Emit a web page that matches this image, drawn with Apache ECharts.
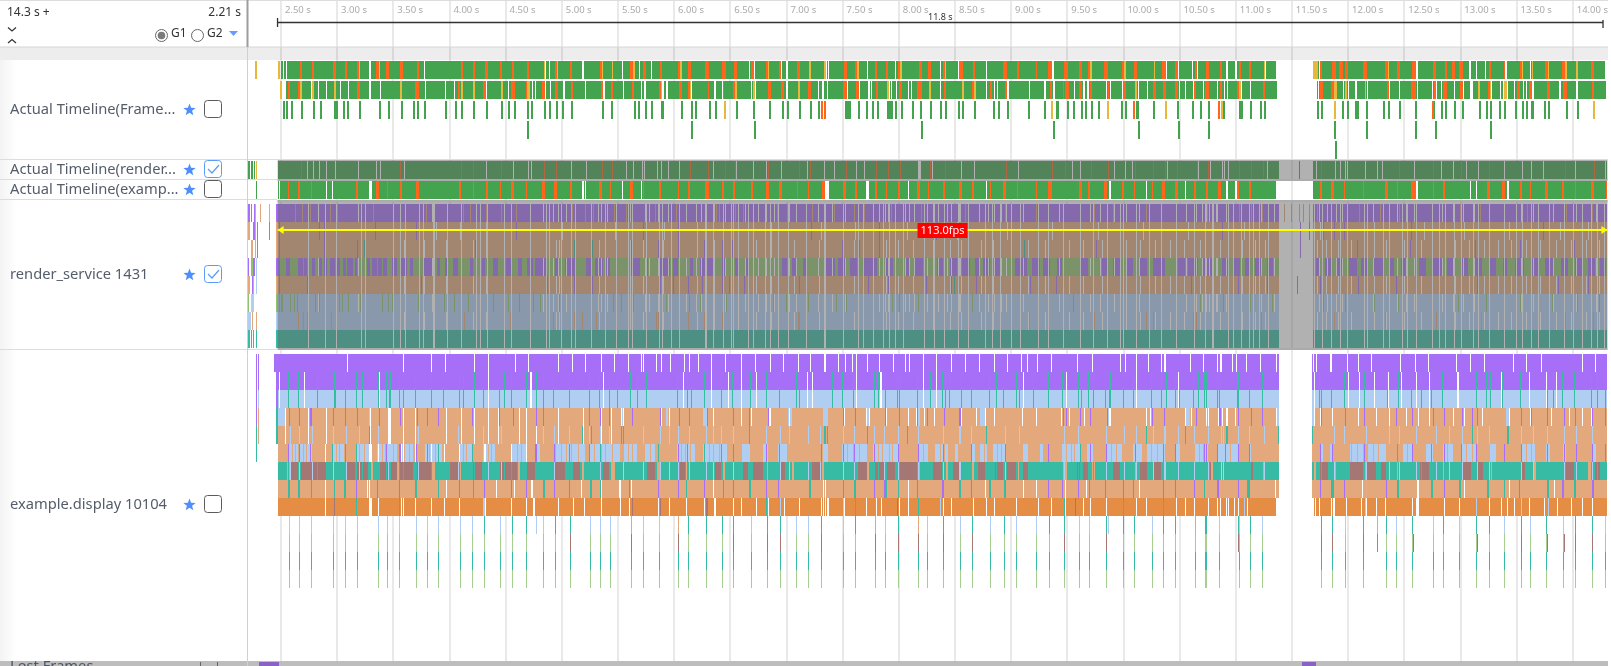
<!DOCTYPE html>
<html>
<head>
<meta charset="utf-8">
<title>trace timeline</title>
<style>
html,body{margin:0;padding:0;background:#fff;overflow:hidden}
#main{width:1611px;height:666px}
</style>
<script src="https://cdn.jsdelivr.net/npm/echarts@6/dist/echarts.min.js"></script>
</head>
<body>
<div id="main"></div>
<script>
// ruler
var xTickValues = [2.5,3,3.5,4,4.5,5,5.5,6,6.5,7,7.5,8,8.5,9,9.5,10,10.5,11,11.5,12,12.5,13,13.5,14];
var measureSpan = [2.47, 14.27];
var measureLabel = '11.8 s';
var fpsSpan = [2.47, 14.27];
var fpsLabel = '113.0fps';
var rowNames = ['Actual Timeline(Frame...', 'Actual Timeline(render...', 'Actual Timeline(examp...', 'render_service 1431', 'example.display 10104'];
var rowChecked = [false, true, false, true, false];

// Actual Timeline(Frame...) seconds
var f1Base = [[2.50,2.515],[2.53,2.545],[2.55,11.33],[11.66,14.245]];
var f1Gaps = [3.29,3.77,4.85,4.88,5.18,5.53,5.68,5.79,6.66,6.70,6.94,6.99,7.34,7.355,7.705,7.95,8.35,8.51,8.76,9.35,9.45,10.09,10.36,10.46,10.585,10.635,10.895,10.975,11.235,11.715,12.575,12.585,13.05,13.11,13.19,13.37,13.59];
var f1Orange = [[2.665,2.69],[2.775,2.795],[2.96,2.985],[3.07,3.085],[3.17,3.19],[3.345,3.365],[3.435,3.455],[3.555,3.58],[3.71,3.725],[4.10,4.115],[4.20,4.22],[4.31,4.335],[4.44,4.46],[4.55,4.57],[4.68,4.70],[4.93,4.95],[5.06,5.08],[5.33,5.35],[5.60,5.62],[5.71,5.735],[5.86,5.885],[6.02,6.04],[6.115,6.14],[6.26,6.295],[6.41,6.445],[6.52,6.545],[6.67,6.695],[6.805,6.82],[6.915,6.935],[7.08,7.105],[7.495,7.52],[7.59,7.61],[7.77,7.785],[7.87,7.89],[7.975,7.995],[8.16,8.185],[8.24,8.265],[8.37,8.39],[8.52,8.55],[8.64,8.655],[8.91,8.945],[9.03,9.045],[9.195,9.21],[9.31,9.345],[9.45,9.48],[9.58,9.61],[9.665,9.68],[9.805,9.84],[9.965,9.98],[10.07,10.10],[10.32,10.355],[10.43,10.46],[10.61,10.63],[10.71,10.735],[10.83,10.85],[11.0,11.015],[11.085,11.11],[11.72,11.74],[11.83,11.86],[11.89,11.92],[11.94,11.965],[12.105,12.14],[12.30,12.32],[12.40,12.425],[12.54,12.57],[12.72,12.745],[12.825,12.85],[12.89,12.915],[12.95,12.985],[13.215,13.24],[13.35,13.365],[13.49,13.51],[13.72,13.74],[13.87,13.89],[14.12,14.155]];
var f1Yellow = [[2.27,2.285],[2.47,2.49],[3.19,3.20],[3.365,3.38],[4.83,4.845],[4.95,4.96],[5.35,5.36],[5.435,5.44],[5.62,5.64],[6.04,6.055],[6.82,6.83],[7.185,7.20],[7.32,7.335],[7.61,7.63],[7.995,8.01],[8.39,8.40],[9.68,9.70],[9.98,10.0],[10.245,10.25],[11.22,11.23],[11.66,11.705],[12.32,12.33],[13.51,13.525],[13.60,13.605],[13.74,13.75],[13.89,13.91],[13.99,14.005]];

var f2Base = [[2.49,2.51],[2.54,11.34],[11.69,14.255]];
var f2Gaps = [2.52,2.775,2.83,2.905,2.985,3.03,3.10,3.29,3.38,3.78,3.96,4.04,4.325,4.52,4.73,4.76,4.85,4.89,5.01,5.205,5.365,5.54,5.70,5.73,5.89,5.925,6.145,6.35,6.415,6.675,6.71,6.99,7.20,7.27,7.31,7.35,7.525,7.63,7.72,7.71,7.74,7.90,7.915,7.96,8.07,8.095,8.355,8.76,8.83,8.86,8.95,9.145,9.28,9.36,9.54,9.625,9.66,9.825,9.86,9.965,10.11,10.19,10.475,10.525,10.595,10.685,10.73,10.81,10.875,10.90,11.02,11.10,11.705,11.93,11.97,12.035,12.045,12.12,12.14,12.335,12.425,12.585,12.72,12.75,12.795,12.915,12.99,13.06,13.07,13.24,13.32,13.345,13.385,13.445,13.49,13.525,13.55,13.61,13.74,13.85,13.91,14.0];
var f2Orange = [[2.56,2.58],[2.65,2.67],[3.175,3.20],[3.555,3.575],[3.69,3.725],[4.07,4.09],[4.29,4.32],[4.545,4.58],[4.67,4.685],[4.82,4.845],[4.935,4.96],[5.07,5.095],[5.335,5.36],[5.425,5.45],[5.61,5.635],[5.85,5.87],[6.03,6.055],[6.11,6.125],[6.285,6.30],[6.42,6.435],[6.51,6.53],[6.82,6.845],[6.935,6.96],[7.175,7.20],[7.485,7.52],[7.60,7.63],[7.78,7.795],[7.985,8.01],[8.14,8.185],[8.38,8.405],[8.63,8.645],[8.79,8.805],[8.92,8.945],[9.32,9.345],[9.435,9.45],[9.46,9.49],[9.585,9.61],[9.675,9.70],[9.835,9.85],[9.975,10.0],[10.235,10.26],[10.33,10.355],[10.435,10.46],[10.60,10.62],[10.70,10.735],[10.835,10.85],[10.98,11.0],[11.21,11.235],[11.715,11.75],[11.82,11.84],[12.31,12.335],[12.53,12.57],[12.73,12.745],[12.81,12.845],[12.96,12.985],[13.21,13.225],[13.465,13.49],[13.57,13.605],[13.73,13.76],[13.88,13.91],[14.13,14.155]];
var f2Yellow = [[2.49,2.51],[2.67,2.685],[2.775,2.79],[2.97,2.985],[3.56,3.575],[4.10,4.115],[4.205,4.22],[4.455,4.47],[4.685,4.705],[5.87,5.885],[6.125,6.14],[6.53,6.545],[6.685,6.705],[7.085,7.105],[7.875,7.895],[8.25,8.265],[8.54,8.56],[8.645,8.665],[10.08,10.10],[11.0,11.015],[11.84,11.87],[11.94,11.955],[12.115,12.13],[13.12,13.135],[13.225,13.24],[13.355,13.375]];

var f3Green = [2.53,2.55,2.595,2.685,2.79,2.855,2.98,3.0,3.06,3.095,3.20,3.38,3.46,3.575,3.68,3.715,3.78,3.965,4.055,4.105,4.21,4.33,4.465,4.52,4.58,4.695,4.73,4.845,4.89,4.95,5.005,5.085,5.36,5.44,5.64,5.68,5.735,5.795,5.885,6.055,6.145,6.18,6.305,6.36,6.545,6.695,6.835,6.955,6.995,7.105,7.20,7.27,7.51,7.53,7.55,7.63,7.70,7.75,7.795,7.885,7.90,7.92,7.955,8.01,8.105,8.175,8.265,8.355,8.405,8.515,8.55,8.655,8.83,8.87,8.95,9.14,9.275,9.39,9.48,9.54,9.61,9.645,9.70,9.76,9.965,10.0,10.10,10.25,10.46,10.595,10.66,10.735,10.87,11.01,11.03,11.11,11.20,11.23,11.705,11.74,11.92,11.965,12.04,12.06,12.135,12.285,12.335,12.425,12.57,12.735,12.80,12.835,12.915,12.985,13.135,13.20,13.235,13.315,13.365,13.455,13.525,13.56,13.605,13.72,13.755,13.91,14.005];
var f3Orange = [7.30,7.325,10.07,10.825,12.72];
var f3Yellow = [6.44,9.345,9.84,10.355,10.85,11.85,14.155];
var f4Green = [4.695,6.15,6.705,8.185,9.355,10.11,10.47,10.735,11.85,12.14,12.575,12.745,13.24];
var f5Green = [11.86];

// Actual Timeline(render...)
var renderEarly = [2.21,2.22,2.24,2.25,2.265];
var renderEarlyYellow = [2.28];
var renderBase = [[2.47,11.36],[11.53,11.545],[11.66,14.27]];
var renderGaps = [2.735,2.785,2.84,2.90,2.985,3.19,3.35,3.385,3.60,4.32,4.565,4.695,4.72,5.08,5.21,5.565,5.63,5.71,5.725,5.84,5.875,5.935,6.04,6.34,6.54,6.69,6.805,6.94,7.17,7.32,7.415,7.61,7.68,8.155,8.17,8.28,8.535,8.65,9.04,9.525,9.595,9.90,9.99,10.06,10.37,10.645,10.75,10.855,10.87,10.91,11.25,11.685,11.86,11.90,11.945,11.96,12.125,12.23,12.27,12.56,12.80,12.90,13.02,13.13,13.36,13.515,13.60,13.705,13.985,14.255];
var renderOrange = [2.685,3.56,4.10,4.205,4.455,4.84,4.945,5.35,5.44,6.135,6.295,6.44,6.53,6.83,7.10,7.195,7.515,7.78,7.89,8.0,8.26,8.40,8.94,9.345,9.465,9.69,9.84,10.08,10.245,10.345,10.455,10.63,10.73,11.005,11.11,11.22,11.735,12.425,12.73,12.975,13.22,13.895,14.155];

// Actual Timeline(examp...)
var exBase = [[2.475,2.48],[2.49,11.33],[11.655,11.66],[11.67,14.27]];
var exEarly = [2.28];
var exGaps = [2.905,2.955,3.29,3.30,5.18,5.205,5.53,5.70,6.68,7.33,7.345,7.36,7.70,7.715,8.065,8.76,9.855,10.075,10.18,10.525,10.90,10.89,10.975,12.58,13.055,13.11,13.38,13.39];
var exOrange = [[2.56,2.57],[2.655,2.67],[2.77,2.775],[3.165,3.18],[3.345,3.37],[3.44,3.445],[3.555,3.57],[3.70,3.725],[4.075,4.10],[4.20,4.215],[4.32,4.335],[4.44,4.455],[4.545,4.57],[4.67,4.685],[4.82,4.84],[4.925,4.945],[5.065,5.08],[5.325,5.345],[5.42,5.43],[5.60,5.62],[5.71,5.72],[5.85,5.87],[6.02,6.035],[6.11,6.125],[6.26,6.295],[6.41,6.43],[6.51,6.525],[6.67,6.685],[6.805,6.83],[6.915,6.945],[7.08,7.09],[7.18,7.185],[7.30,7.325],[7.485,7.51],[7.59,7.61],[7.77,7.785],[7.87,7.875],[7.975,7.995],[8.14,8.17],[8.24,8.245],[8.37,8.39],[8.52,8.54],[8.63,8.65],[8.79,8.795],[8.91,8.935],[9.03,9.04],[9.195,9.20],[9.31,9.34],[9.58,9.605],[9.665,9.68],[9.805,9.83],[9.965,9.98],[10.065,10.08],[10.23,10.235],[10.32,10.345],[10.43,10.455],[10.60,10.62],[10.705,10.73],[10.815,10.845],[10.98,11.0],[11.085,11.105],[11.715,11.735],[11.82,11.84],[11.93,11.945],[12.105,12.11],[12.30,12.32],[12.40,12.405],[12.53,12.57],[12.72,12.735],[12.81,12.825],[13.20,13.225],[13.33,13.365],[13.49,13.51],[13.58,13.595],[13.72,13.74],[13.87,13.885],[13.98,13.985],[14.12,14.15],[14.255,14.26]];

// render_service 1431
var rsBase = [[2.47,11.36],[11.66,14.27]];
var rsGapsShared = [2.74,2.896,2.994,3.21,3.25,3.50,3.556,3.606,3.727,3.763,3.85,3.86,3.976,4.103,4.236,4.27,4.33,4.485,4.547,4.715,4.857,4.88,4.99,5.08,5.11,5.256,5.375,5.478,5.58,5.62,5.744,5.86,5.886,5.966,6.034,6.265,6.275,6.336,6.425,6.498,6.513,6.646,6.69,6.795,6.84,6.913,7.0,7.164,7.327,7.49,7.62,7.67,7.755,7.845,7.90,7.95,8.02,8.21,8.30,8.39,8.51,8.60,8.75,8.81,8.88,8.98,9.06,9.22,9.31,9.44,9.59,9.71,9.83,9.945,9.975,10.09,10.21,10.315,10.45,10.61,10.70,10.77,10.905,10.95,11.02,11.09,11.125,11.18,11.26,11.67,11.74,11.82,11.90,11.96,12.115,12.145,12.285,12.34,12.45,12.50,12.575,12.72,12.78,12.835,12.915,12.975,13.08,13.13,13.225,13.36,13.46,13.52,13.595,13.655,13.755,13.89,13.965,14.05,14.13,14.185,14.245];
var rsGapsA = [2.83,3.19,3.84,4.83,4.92,4.96,5.03,5.315,5.345,5.40,5.60,5.73,5.77,5.85,5.94,6.10,6.19,6.23,6.35,6.44,6.56,6.62,6.735,6.81,6.88,7.015,7.075,7.27,7.39,7.505,7.815,7.86,7.89,8.04,8.08,8.125,8.24,8.29,8.33,8.41,8.45,8.525,8.70,8.775,8.835,8.895,8.94,8.985,9.09,9.41,9.68,9.77,9.90,10.0,10.12,10.535,10.625,10.715,10.80,10.89,10.68,10.74,10.81,11.20,11.32,11.715,11.79,11.865,11.92,12.19,12.28,12.41,12.485,12.56,12.81,12.90,12.99,13.09,13.505,13.61,13.79,13.995,14.17];
var rsGapsB = [3.60,3.77,3.97,4.205,4.325,4.945,4.975,5.33,5.60,5.715,5.89,6.20,6.35,6.56,6.72,6.85,7.06,7.28,7.59,7.875,7.98,8.11,8.29,8.44,8.54,8.72,8.82,9.13,9.28,9.50,9.62,9.79,10.0,10.13,10.26,10.39,10.52,10.66,10.84,11.03,11.15,11.24,11.70,11.78,11.88,12.0,12.2,12.31,12.47,12.62,12.78,12.92,13.05,13.18,13.3,13.42,13.55,13.68,13.82,13.95,14.08,14.2];
var rsGapsL2 = [3.216,3.88,4.09,4.325,5.0,5.47,5.9,6.2,6.56,6.85,7.3,7.6,8.06,8.5,8.95,9.35,9.75,10.15,10.55,11.05,11.72,12.2,12.65,13.0,13.4,13.85,14.1];
var rsL1Salmon = [2.63,2.69,2.76,2.935,3.0,3.32,3.79,3.85,4.12,4.18,4.325,4.46,4.59,4.71,4.92,5.09,5.20,5.27,5.46,5.57,5.82,6.01,6.365,6.395,6.53,6.60,6.91,6.99,7.22,7.415,7.59,7.68,7.92,8.185,8.33,8.57,8.925,9.205,9.72,9.885,10.18,10.725,11.005,11.11,11.21,11.405,11.465,11.54,11.57,11.63,11.70,11.745,12.07,12.26,12.425,12.485,12.72,12.97,13.14,13.225,13.565,13.905,14.14];
var rsL2Purple = [2.47,2.485,2.74,2.84,2.89,2.99,3.34,3.70,4.09,4.59,5.47,5.715,6.03,6.335,6.50,7.21,7.815,8.32,9.71,9.975,10.85,11.55,11.63,11.75,11.85,11.94,12.45,12.53,13.225,13.7,14.1];
var rsL3Purple = [2.485,2.89,2.99,3.177,3.497,3.556,5.61,5.85,6.03,6.26,6.42,6.51,7.48,7.815,9.74,9.975,11.55,12.05,12.52,13.10,13.50,13.98];
var rsL3Teal = [3.245,4.227,5.10,5.26,7.63,9.1];
var rsL4Green = [[2.47,11.36],[11.66,14.27]];
var rsL4Purple = [[2.47,2.49],[2.544,2.58],[2.65,2.692],[2.704,2.733],[2.772,2.80],[2.84,2.864],[2.881,2.911],[2.935,2.98],[3.0,3.023],[3.053,3.077],[3.088,3.142],[3.157,3.177],[3.26,3.29],[3.304,3.349],[3.364,3.393],[3.408,3.438],[3.482,3.526],[3.556,3.615],[3.645,3.674],[3.763,3.837],[3.881,3.911],[3.955,3.985],[4.029,4.073],[4.177,4.207],[4.28,4.31],[4.384,4.428],[4.50,4.547],[4.606,4.635],[4.68,4.739],[4.754,4.798],[4.768,4.857],[4.93,4.96],[5.02,5.12],[5.21,5.256],[5.286,5.36],[5.375,5.42],[5.596,5.685],[5.73,5.76],[5.863,5.951],[5.98,6.025],[6.129,6.158],[6.218,6.336],[6.41,6.44],[6.528,6.558],[6.617,6.646],[6.942,6.987],[7.03,7.075],[7.135,7.164],[7.34,7.415],[7.445,7.504],[7.549,7.608],[7.667,7.785],[7.859,7.90],[7.904,7.933],[8.037,8.081],[8.126,8.2],[8.318,8.377],[8.436,8.495],[8.54,8.614],[8.658,8.702],[8.732,8.791],[8.835,8.895],[9.013,9.117],[9.161,9.235],[9.264,9.324],[9.383,9.427],[9.59,9.664],[9.782,9.826],[9.886,9.945],[10.004,10.063],[10.122,10.181],[10.24,10.344],[10.462,10.52],[10.55,10.64],[10.67,10.773],[10.847,10.906],[10.95,11.01],[11.05,11.10],[11.14,11.2],[11.25,11.3],[11.68,11.72],[11.76,11.82],[11.86,11.92],[11.98,12.05],[12.08,12.14],[12.2,12.28],[12.33,12.38],[12.44,12.5],[12.6,12.66],[12.72,12.8],[12.85,12.92],[12.97,13.03],[13.08,13.16],[13.22,13.28],[13.34,13.38],[13.45,13.53],[13.6,13.66],[13.72,13.8],[13.86,13.92],[13.98,14.05],[14.1,14.16],[14.2,14.26]];
var rsL5Purple = [2.485,2.736,2.994,3.25,3.50,3.556,4.985,5.10,5.26,5.60,5.87,5.98,6.12,6.24,6.42,6.617,7.105,7.62,7.71,7.89,8.23,8.45,8.67,9.15,9.38,9.71,9.975,10.77,11.0,11.25,11.72,12.06,12.40,12.78,13.12,13.46,13.84,14.1];
var rsL5Teal = [3.75,3.85,4.863,6.48,7.49,7.59,8.48,10.58,11.52];
var rsL6Green = [2.47,2.485,2.50,2.515,2.58,2.618,2.645,2.805,2.84,3.023,3.044,3.097,3.207,3.40,3.452,3.49,3.72,3.955,4.04,4.16,4.384,4.517,4.62,4.739,4.74,4.80,4.96,4.975,5.256,5.375,5.45,5.52,5.626,5.73,5.92,6.04,6.129,6.218,6.454,6.558,6.795,6.868,6.913,6.987,7.164,7.18,7.43,7.52,7.93,7.99,8.08,8.155,8.64,8.88,9.53,10.535,10.655,10.86,11.1,11.3,11.75,11.95,12.2,12.42,12.72,12.95,13.2,13.5,13.78,14.0,14.2];
var rsL7Salmon = [2.654,2.698,2.734,2.95,2.994,3.25,3.497,3.556,3.763,3.858,4.124,4.538,4.922,5.10,5.173,5.30,5.833,5.848,6.12,6.26,6.42,6.498,6.513,7.09,7.105,7.49,7.62,7.845,9.146,9.72,10.18,10.21,10.24,10.595,10.625,11.2,11.85,12.3,12.75,13.15,13.55,13.9,14.15];
var rsEarly = [
  {lane: 0, color: 'purple', spans: [[2.21,2.225],[2.235,2.245],[2.26,2.27],[2.455,2.47]]},
  {lane: 0, color: 'salmon', spans: [[2.265,2.28],[2.315,2.325],[2.395,2.405]]},
  {lane: 1, color: 'salmon', spans: [[2.21,2.225],[2.27,2.275],[2.455,2.47]]},
  {lane: 1, color: 'purple', spans: [[2.25,2.27],[2.285,2.295],[2.395,2.405]]},
  {lane: 2, color: 'salmon', spans: [[2.23,2.255],[2.27,2.28],[2.455,2.47]]},
  {lane: 2, color: 'purple', spans: [[2.285,2.295]]},
  {lane: 3, color: 'purple', spans: [[2.21,2.22],[2.25,2.265],[2.455,2.47]]},
  {lane: 3, color: 'rsGreen', spans: [[2.23,2.25]]},
  {lane: 3, color: 'blue', spans: [[2.275,2.285]]},
  {lane: 4, color: 'salmon', spans: [[2.21,2.225],[2.25,2.26],[2.455,2.47]]},
  {lane: 4, color: 'purple', spans: [[2.245,2.25]]},
  {lane: 4, color: 'blue', spans: [[2.275,2.285]]},
  {lane: 5, color: 'rsGreen', spans: [[2.21,2.22],[2.455,2.47]]},
  {lane: 5, color: 'blue', spans: [[2.23,2.26]]},
  {lane: 6, color: 'blue', spans: [[2.21,2.23],[2.455,2.47]]},
  {lane: 6, color: 'salmon', spans: [[2.245,2.255],[2.275,2.285]]},
  {lane: 7, color: 'teal', spans: [[2.21,2.225],[2.235,2.24],[2.255,2.26],[2.275,2.28],[2.455,2.47]]}
];

// example.display 10104
var eLaneBase = [[2.476,11.36],[11.645,14.27]];
var e1Base = [[2.438,11.36],[11.645,14.27]];
var e1Gaps = [3.09,3.585,3.837,3.96,4.215,4.34,4.58,4.70,4.96,5.088,5.203,5.345,5.46,5.58,5.70,5.72,5.833,5.877,5.957,6.076,6.129,6.206,6.32,6.445,6.584,6.71,6.84,6.957,7.09,7.20,7.327,7.445,7.51,7.572,7.608,7.70,7.81,7.933,8.04,8.075,8.20,8.318,8.45,8.578,8.70,8.835,8.945,9.07,9.125,9.214,9.341,9.566,9.70,9.95,9.995,10.087,10.196,10.315,10.344,10.566,10.69,10.81,10.847,10.98,10.835,10.94,11.065,11.19,11.33,11.665,11.692,11.817,11.96,12.06,12.18,12.43,12.568,12.686,12.935,13.056,13.18,13.44,13.556,13.683,14.05,14.165];
var eTealTicks = [2.565,2.654,2.822,2.979,3.068,3.171,3.22,3.364,3.438,3.467,3.55,3.585,3.695,3.837,3.94,4.088,4.118,4.213,4.295,4.443,4.482,4.547,4.674,4.763,4.833,4.922,5.058,5.241,5.33,5.419,5.484,5.60,5.66,5.744,6.016,6.105,6.144,6.262,6.41,6.505,6.667,6.81,6.921,7.075,7.105,7.395,7.484,7.584,7.762,7.806,7.86,7.969,7.984,8.146,8.259,8.368,8.392,8.43,8.534,8.628,8.785,8.85,8.91,9.022,9.057,9.176,9.309,9.436,9.575,9.6,9.664,9.708,9.812,9.856,9.974,10.063,10.226,10.315,10.359,10.433,10.477,10.6,10.64,10.714,10.826,10.995,10.695,10.814,10.99,11.095,11.213,11.716,11.73,11.825,11.938,12.115,12.32,12.42,12.535,12.618,12.713,12.81,13.106,13.195,13.23,13.337,13.497,13.742,13.795,13.875,13.98,14.127,14.186,14.254];
var eTopGaps = [2.485,2.704,3.378,4.34,4.71,4.724,5.36,6.07,6.32,6.469,6.587,6.72,7.17,7.217,7.608,7.824,8.2,8.318,9.087,9.47,9.605,9.856,10.093,10.463,11.67,11.968,12.07,12.204,12.33,12.44,12.574,12.69,12.944,13.328,13.58,13.727,13.816];
var e4Purple = [2.574,2.663,2.766,2.964,3.068,3.18,3.372,3.556,3.71,3.798,3.896,4.198,4.443,4.561,4.763,4.827,5.241,5.339,5.419,5.617,5.863,6.034,6.123,6.286,6.519,6.661,6.824,7.495,7.602,7.86,7.984,8.149,8.235,8.386,8.525,9.442,9.47,9.59,9.685,9.832,10.232,10.34,10.62,10.838,11.0,10.83,11.11,11.213,11.734,11.947,12.115,12.402,12.544,12.728,12.825,12.98,13.077,13.12,13.511,13.594,13.742,13.89,13.99,14.14,14.25];
var e4Gaps = [2.544,2.742,2.9,3.29,3.452,3.467,3.585,3.689,3.97,4.103,4.213,4.34,4.43,4.615,4.674,4.768,4.96,5.182,5.345,5.434,5.517,5.537,5.877,5.951,6.336,6.587,6.676,6.839,7.016,7.504,7.696,7.72,7.874,8.066,8.14,8.214,8.303,8.54,8.673,8.747,8.835,9.078,9.205,9.427,9.5,9.634,9.856,10.18,10.211,10.522,10.58,10.729,10.818,10.89,10.716,10.852,10.902,10.97,11.33,11.67,11.722,11.834,12.065,12.22,12.337,12.49,12.59,12.69,12.905,13.0,13.165,13.402,13.585,13.771,13.935,14.05,14.127];
var e4Blue = [[2.476,2.544],[3.285,3.30],[5.514,5.543],[5.92,5.93],[6.247,6.277],[7.0,7.03],[7.312,7.356],[7.696,7.72],[8.14,8.17],[8.70,8.747],[9.826,9.865],[10.52,10.566],[11.332,11.36],[11.651,11.67],[13.372,13.402]];
var e5Teal = [2.905,3.285,3.295,5.173,5.256,5.52,5.535,6.661,7.32,7.335,7.35,7.70,8.058,8.756,10.181,10.522,10.897,10.894,11.355,11.651,13.077,13.38,13.39];
var e5Blue = [2.58,2.668,2.78,2.97,3.08,3.2,3.364,3.452,3.585,3.72,4.073,4.295,4.34,4.458,4.768,4.833,4.93,5.064,5.241,5.336,5.419,5.537,5.715,5.863,5.945,6.025,6.129,6.277,6.342,6.41,6.513,6.81,6.93,7.016,7.18,7.283,7.49,7.593,7.77,7.859,7.978,8.16,8.377,8.525,8.628,8.925,9.057,9.448,9.575,9.826,9.989,10.093,10.24,10.344,10.462,10.61,10.729,10.86,10.995,10.734,10.843,11.09,11.228,11.85,11.938,12.13,12.337,12.426,12.574,12.75,12.87,12.988,13.12,13.225,13.505,13.61,13.742,13.89,13.995,14.14];
var e6Blue = [[2.565,2.654],[2.668,2.772],[2.95,3.06],[3.171,3.284],[3.355,3.526],[3.55,3.704],[3.778,3.926],[4.082,4.192],[4.295,4.399],[4.538,4.68],[4.754,4.798],[4.94,5.197],[5.235,5.33],[5.345,5.508],[5.543,5.656],[5.73,5.818],[6.01,6.173],[6.247,6.454],[6.587,6.661],[6.78,6.824],[6.913,6.987],[7.312,7.356],[7.475,7.696],[7.756,7.9],[7.859,7.978],[8.155,8.244],[8.303,8.421],[8.48,8.51],[8.628,8.658],[8.702,8.762],[8.82,8.925],[9.087,9.131],[9.235,9.264],[9.427,9.59],[9.649,9.708],[9.826,9.96],[10.063,10.137],[10.181,10.344],[10.433,10.477],[10.61,10.729],[10.818,10.92],[10.932,10.991],[11.095,11.11],[11.716,11.745],[11.805,11.834],[11.982,12.1],[12.145,12.307],[12.455,12.544],[12.662,12.722],[12.81,12.899],[12.973,13.106],[13.225,13.284],[13.505,13.624],[13.727,13.757],[13.875,13.905],[14.14,14.17]];
var e6Slits = [2.60,2.63,2.70,2.73,2.99,3.02,3.20,3.24,3.40,3.43,3.50,3.60,3.64,3.68,3.82,3.87,4.12,4.15,4.34,4.37,4.60,4.63,4.99,5.03,5.08,5.14,5.28,5.38,5.44,5.58,5.62,5.78,6.05,6.09,6.13,6.30,6.34,6.39,7.53,7.58,7.63,7.80,7.84,7.90,7.93,8.20,8.35,8.39,8.74,8.86,8.89,9.47,9.51,9.54,9.87,9.91,10.22,10.28,10.65,10.69,12.0,12.05,12.19,12.24,12.5,12.85,13.02,13.07,13.55,13.6];
var e6Purple = [2.57,2.66,2.763,3.068,3.171,3.364,3.438,3.556,3.698,3.798,4.088,4.304,4.547,4.674,4.77,4.762,4.93,5.058,5.241,5.336,5.848,6.025,6.105,6.262,6.41,6.513,6.81,6.927,7.297,7.49,7.593,7.77,7.978,8.155,8.377,8.628,8.925,9.309,9.59,9.679,9.826,10.078,10.33,10.433,10.714,10.877,10.995,10.695,10.814,11.095,11.722,11.834,12.11,12.41,12.544,12.825,12.973,13.106,13.358,13.505,13.742,13.89,13.995,14.14,14.254];
var e6Teal = [2.96,3.896,4.2,3.171,3.55,5.336,5.848,6.262,8.377,9.59,12.41,12.713];
var e7Brown = [[2.58,2.654],[2.677,2.9],[3.083,3.157],[3.171,3.275],[3.378,3.526],[3.556,3.674],[3.704,3.837],[4.0,4.073],[4.207,4.28],[4.443,4.591],[4.68,4.754],[4.724,4.753],[4.93,5.02],[5.093,5.153],[5.36,5.419],[5.744,5.818],[6.04,6.085],[6.351,6.41],[6.602,6.646],[6.69,6.78],[6.927,6.972],[7.208,7.283],[7.623,7.696],[7.77,7.859],[7.874,7.948],[7.992,8.14],[8.288,8.377],[8.466,8.525],[8.688,8.747],[8.835,8.91],[8.94,9.028],[9.087,9.131],[9.56,9.59],[9.62,9.664],[9.886,9.945],[10.122,10.181],[10.24,10.315],[10.74,10.755],[11.11,11.125],[11.716,11.79],[11.982,12.1],[12.13,12.219],[12.263,12.302],[12.603,12.69],[12.988,13.062],[13.12,13.165],[13.505,13.535],[13.905,13.98],[14.156,14.2]];
var e7Salmon = [[2.55,2.58],[2.654,2.665],[3.30,3.32],[3.53,3.55],[3.84,3.87],[4.08,4.10],[4.60,4.62],[5.17,5.19],[5.43,5.46],[5.84,5.86],[6.09,6.11],[6.42,6.44],[6.80,6.82],[7.03,7.05],[7.30,7.32],[7.70,7.72],[8.15,8.17],[8.40,8.42],[8.63,8.65],[9.04,9.06],[9.44,9.47],[9.70,9.72],[10.08,10.10],[10.34,10.36],[10.75,10.77],[11.21,11.225],[11.663,11.68],[11.84,11.86],[12.12,12.13],[12.40,12.42],[12.80,12.82],[13.23,13.25],[13.62,13.64],[14.1,14.12]];
var e8Teal = [2.57,2.66,2.772,2.973,3.068,3.55,3.698,3.896,4.207,4.833,5.25,5.336,5.848,6.099,6.425,6.661,7.194,7.49,7.593,7.86,7.868,7.978,8.377,8.525,8.791,8.925,9.309,9.575,9.673,10.695,10.814,11.08,11.834,12.41,12.713,12.825,12.964,13.21,13.358,13.742,13.875,13.98,14.14];
var e8Purple = [3.171,3.355,3.55,4.088,4.304,4.547,4.674,4.93,5.058,5.596,5.848,6.025,6.262,6.513,6.81,6.913,7.77,7.859,8.146,8.371,8.628,9.309,9.436,9.575,9.673,9.812,9.974,10.063,10.33,10.433,10.61,10.818,10.995,11.095,11.722,11.825,11.938,12.307,12.825,13.491,13.875,14.14];
var e8Gaps = [2.899,3.27,3.285,3.97,4.408,4.576,4.735,4.724,5.167,5.345,5.508,5.611,6.336,7.312,7.33,8.066,8.747,9.087,9.205,9.457,9.649,10.122,11.325,12.1,12.589,13.0,13.4,13.8];
var e9Gaps = [2.899,3.284,3.295,3.304,3.364,3.57,3.591,3.695,3.837,3.955,4.088,4.31,4.547,4.68,4.74,4.753,4.96,5.093,5.197,5.345,5.513,5.596,5.848,5.951,6.099,6.262,6.351,6.519,6.587,6.72,6.824,6.972,7.105,7.30,7.315,7.33,7.345,7.356,7.504,7.696,7.785,7.83,7.992,8.066,8.377,8.45,8.643,8.762,8.835,9.028,9.22,9.338,9.457,9.62,9.679,9.826,9.974,10.093,10.181,10.33,10.448,10.522,10.61,10.729,10.906,10.995,10.814,10.837,10.888,10.962,11.08,11.677,11.716,11.825,11.838,11.85,11.953,12.086,12.13,12.219,12.302,12.544,12.574,12.584,12.594,12.825,12.958,13.106,13.225,13.328,13.387,13.447,13.58,13.712,13.831,13.95,14.05,14.14];
var e9Base = [[2.476,11.325],[11.663,14.27]];
var e9Blue = [4.295,4.304,6.93,7.49,8.155,8.355,11.05,12.12,13.11,13.51,13.75];
var e9Brown = [2.973,5.62,5.87,6.28,7.97,9.55];
var e9Teal = [3.171,3.55,6.81,7.60,8.16,9.45,9.974,10.33];
var eLower = [2.574,2.663,2.766,2.964,3.071,3.177,3.364,3.443,3.55,3.701,3.798,3.896,4.088,4.198,4.304,4.446,4.553,4.674,4.827,4.934,5.067,5.244,5.333,5.422,5.611,5.715,5.857,6.025,6.114,6.274,6.416,6.513,6.67,6.815,6.93,7.078,7.179,7.294,7.49,7.596,7.773,7.862,7.978,8.155,8.235,8.377,8.525,8.634,8.794,8.918,9.03,9.199,9.315,9.451,9.584,9.673,9.823,9.974,10.072,10.232,10.329,10.433,10.613,10.711,10.826,11.004,10.704,11.098,11.213,11.728,11.834,11.941,12.109,12.313,12.402,12.544,12.722,12.819,12.961,13.112,13.219,13.352,13.503,13.591,13.733,13.884,13.982,14.133,14.251];
var e10Teal = [4.304,4.553,4.674,4.934,5.067,6.114,6.274,6.416,6.513,6.815,6.93,7.294,7.596,7.978,8.377,8.634,8.918,9.315,9.451,9.823,9.974,10.072,10.329,10.433,10.711,10.704,10.997,11.098,11.728,11.834,12.109,12.313,12.544,12.819,13.112,13.219,13.503,13.733,13.982,14.133];
var e10Salmon = [5.611,6.025,7.773,8.155,10.613,12.225];
var e10Extra = [4.763,9.199,9.84,12.225];
var e11Brown = [5.067,5.611,6.025,6.513,6.815,6.93,7.294,7.773,7.978,8.155,8.377,8.634,9.451,9.823,10.997,11.728,11.834,12.109,12.55,13.117,13.51,13.742,13.89,13.99,14.14];
var e11Purple = [12.225];
var eEarly = [
  {lane: 0, color: 'purple', spans: [[2.275,2.285],[2.295,2.305]]},
  {lane: 1, color: 'purple', spans: [[2.275,2.285],[2.295,2.305],[2.455,2.47]]},
  {lane: 2, color: 'blue', spans: [[2.295,2.305]]},
  {lane: 2, color: 'purple', spans: [[2.275,2.285],[2.455,2.47]]},
  {lane: 3, color: 'purple', spans: [[2.275,2.285]]},
  {lane: 3, color: 'salmon', spans: [[2.295,2.305]]},
  {lane: 3, color: 'teal', spans: [[2.455,2.47]]},
  {lane: 4, color: 'teal', spans: [[2.275,2.285],[2.455,2.47]]},
  {lane: 4, color: 'salmon', spans: [[2.295,2.305]]},
  {lane: 5, color: 'teal', spans: [[2.275,2.285]]}
];

var palette = {
  white: '#ffffff', green: '#43a34f', orange: '#ff661c', yellow: '#e8b83c',
  purple: '#a76ef7', blue: '#b0cdf2', salmon: '#e3a97c', teal: '#38bba5',
  deepOrange: '#e68d45', brown: '#a57774', leaf: '#a5cf91', rsGreen: '#90c26e'
};
var colorNames = Object.keys(palette);

var X_MIN = 2.207, X_MAX = 14.275;
var GAP = 0.009, THIN = 0.008, BAR = 0.018;

function ticks(list, w) {
  return list.map(function (t) { return [t - w / 2, t + w / 2]; });
}

function laneData(layers) {
  var out = [];
  layers.forEach(function (l) {
    var c = colorNames.indexOf(l[1]);
    l[2].forEach(function (s) { out.push([s[0], s[1], l[0], c]); });
  });
  return out;
}

var frameLayers = [
  [0, 'green', f1Base], [0, 'white', ticks(f1Gaps, 0.011)], [0, 'orange', f1Orange], [0, 'yellow', f1Yellow],
  [1, 'green', f2Base], [1, 'white', ticks(f2Gaps, 0.011)], [1, 'orange', f2Orange], [1, 'yellow', f2Yellow],
  [2, 'green', ticks(f3Green, BAR)], [2, 'orange', ticks(f3Orange, BAR)], [2, 'yellow', ticks(f3Yellow, BAR)],
  [3, 'green', ticks(f4Green, BAR)], [4, 'green', ticks(f5Green, BAR)]
];
var renderLayers = [
  [0, 'green', ticks(renderEarly, GAP)], [0, 'yellow', ticks(renderEarlyYellow, GAP)],
  [0, 'green', renderBase], [0, 'white', ticks(renderGaps, GAP)], [0, 'orange', ticks(renderOrange, GAP)]
];
var exampleLayers = [
  [0, 'green', ticks(exEarly, GAP)], [0, 'green', exBase], [0, 'white', ticks(exGaps, 0.011)], [0, 'orange', exOrange]
];
var rsLayers = [
  [0, 'purple', rsBase], [0, 'salmon', ticks(rsL1Salmon, GAP)], [0, 'white', ticks(rsGapsShared, GAP)], [0, 'white', ticks(rsGapsA, GAP)],
  [1, 'salmon', rsBase], [1, 'purple', ticks(rsL2Purple, GAP)], [1, 'white', ticks(rsGapsShared, GAP)], [1, 'white', ticks(rsGapsL2, GAP)],
  [2, 'salmon', rsBase], [2, 'purple', ticks(rsL3Purple, GAP)], [2, 'teal', ticks(rsL3Teal, GAP)], [2, 'white', ticks(rsGapsShared, GAP)], [2, 'white', ticks(rsGapsB, GAP)],
  [3, 'rsGreen', rsL4Green], [3, 'purple', rsL4Purple], [3, 'white', ticks(rsGapsShared, GAP)], [3, 'white', ticks(rsGapsA, GAP)],
  [4, 'salmon', rsBase], [4, 'purple', ticks(rsL5Purple, GAP)], [4, 'teal', ticks(rsL5Teal, GAP)], [4, 'white', ticks(rsGapsShared, GAP)], [4, 'white', ticks(rsGapsB, GAP)],
  [5, 'blue', rsBase], [5, 'rsGreen', ticks(rsL6Green, GAP)], [5, 'white', ticks(rsGapsShared, GAP)], [5, 'white', ticks(rsGapsA, GAP)],
  [6, 'blue', rsBase], [6, 'salmon', ticks(rsL7Salmon, GAP)], [6, 'white', ticks(rsGapsShared, GAP)], [6, 'white', ticks(rsGapsB, GAP)],
  [7, 'teal', rsBase], [7, 'white', ticks(rsGapsShared, GAP)]
];
rsEarly.forEach(function (e) { rsLayers.push([e.lane, e.color, e.spans]); });
var eLayers = [
  [0, 'purple', e1Base], [0, 'white', ticks(e1Gaps, GAP)],
  [1, 'purple', eLaneBase], [1, 'white', ticks(eTopGaps, GAP)], [1, 'teal', ticks(eTealTicks, GAP)],
  [2, 'blue', eLaneBase], [2, 'white', ticks(eTopGaps, GAP)], [2, 'teal', ticks(eTealTicks, GAP)],
  [3, 'salmon', eLaneBase], [3, 'blue', e4Blue], [3, 'white', ticks(e4Gaps, GAP)], [3, 'purple', ticks(e4Purple, GAP)],
  [4, 'salmon', eLaneBase], [4, 'blue', ticks(e5Blue, GAP)], [4, 'teal', ticks(e5Teal, GAP)], [4, 'white', ticks(e4Gaps.slice(0, 20), GAP)],
  [5, 'salmon', eLaneBase], [5, 'blue', e6Blue], [5, 'salmon', ticks(e6Slits, GAP)], [5, 'purple', ticks(e6Purple, GAP)], [5, 'teal', ticks(e6Teal, GAP)], [5, 'white', ticks(e9Gaps.slice(0, 14), GAP)],
  [6, 'teal', eLaneBase], [6, 'brown', e7Brown], [6, 'salmon', e7Salmon], [6, 'blue', ticks(e5Blue, GAP)], [6, 'teal', ticks(eTealTicks, GAP)],
  [7, 'salmon', eLaneBase], [7, 'white', ticks(e8Gaps, GAP)], [7, 'teal', ticks(e8Teal, 0.014)], [7, 'purple', ticks(e8Purple, GAP)],
  [8, 'deepOrange', e9Base], [8, 'white', ticks(e9Gaps, GAP)], [8, 'blue', ticks(e9Blue, GAP)], [8, 'brown', ticks(e9Brown, GAP)], [8, 'teal', ticks(e9Teal, GAP)],
  [9, 'blue', ticks(eLower, THIN)], [9, 'blue', ticks(e10Extra, THIN)], [9, 'teal', ticks(e10Teal, THIN)], [9, 'salmon', ticks(e10Salmon, THIN)],
  [10, 'leaf', ticks(eLower, THIN)], [10, 'brown', ticks(e11Brown, THIN)], [10, 'purple', ticks(e11Purple, THIN)],
  [11, 'teal', ticks(eLower, THIN)],
  [12, 'leaf', ticks(eLower, THIN)]
];
eEarly.forEach(function (e) { eLayers.push([e.lane, e.color, e.spans]); });
// first lane sits on top of a stray teal tick
eLayers.push([0, 'teal', ticks([2.467], THIN)]);

// one grid per track: pixel top, lane pitch, lane count, bar fill
var tracks = [
  {name: 'ruler', top: 0, pitch: 666, lanes: 1, fill: 1, layers: []},
  {name: 'frame', top: 60, pitch: 20, lanes: 5, fill: 0.9, layers: frameLayers},
  {name: 'render', top: 160, pitch: 20, lanes: 1, fill: 0.9, layers: renderLayers},
  {name: 'example', top: 180, pitch: 20, lanes: 1, fill: 0.9, layers: exampleLayers},
  {name: 'rs', top: 204, pitch: 18, lanes: 8, fill: 1, layers: rsLayers},
  {name: 'display', top: 354, pitch: 18, lanes: 13, fill: 1, layers: eLayers}
];

function renderBar(fill) {
  return function (params, api) {
    var lane = api.value(2);
    var a = api.coord([api.value(0), lane]);
    var b = api.coord([api.value(1), lane]);
    var band = api.size([0, 1])[1];
    var h = band * fill;
    var x0 = Math.round(a[0]);
    var x1 = Math.max(x0 + 1, Math.round(b[0]));
    return {
      type: 'rect',
      silent: true,
      shape: {x: x0, y: Math.round(a[1] - h / 2), width: x1 - x0, height: Math.round(h)},
      style: {fill: palette[colorNames[api.value(3)]]}
    };
  };
}

// the selected rows get a grey veil across the span, with a heavier edge
function renderVeil(params, api) {
  var a = api.coord([api.value(0), 0])[0];
  var b = api.coord([api.value(1), 0])[0];
  var box = params.coordSys;
  var edge = {stroke: '#ababab', lineWidth: 2};
  var kids = [
    {type: 'rect', silent: true, shape: {x: a, y: box.y, width: b - a, height: box.height}, style: {fill: 'rgba(100,100,100,0.5)'}},
    {type: 'line', silent: true, shape: {x1: a, y1: box.y + box.height, x2: b, y2: box.y + box.height}, style: edge}
  ];
  if (box.height > 50) {
    kids.push({type: 'line', silent: true, shape: {x1: a, y1: box.y + 1, x2: b, y2: box.y + 1}, style: edge});
  }
  return {type: 'group', children: kids};
}

function renderMeasure(params, api) {
  var a = api.coord([api.value(0), 0])[0];
  var b = api.coord([api.value(1), 0])[0];
  var c = '#333';
  function seg(x1, y1, x2, y2) {
    return {type: 'line', silent: true, shape: {x1: x1, y1: y1, x2: x2, y2: y2}, style: {stroke: c, lineWidth: 1.3}};
  }
  return {
    type: 'group',
    children: [
      seg(a, 22.5, b, 22.5), seg(a, 18, a, 27), seg(b, 20, b, 28),
      {type: 'text', silent: true, style: {text: measureLabel, x: (a + b) / 2, y: 17.5, align: 'center', verticalAlign: 'middle', fill: '#333', font: '9px "Noto Sans"'}}
    ]
  };
}

function renderFps(params, api) {
  var a = api.coord([api.value(0), 1]);
  var b = api.coord([api.value(1), 1]);
  var y = a[1] - 1;
  var mid = (a[0] + b[0]) / 2;
  return {
    type: 'group',
    children: [
      {type: 'line', silent: true, shape: {x1: a[0], y1: y, x2: b[0], y2: y}, style: {stroke: '#ffff00', lineWidth: 2}},
      {type: 'polygon', silent: true, shape: {points: [[a[0], y], [a[0] + 6, y - 4], [a[0] + 6, y + 4]]}, style: {fill: '#ffff00'}},
      {type: 'polygon', silent: true, shape: {points: [[b[0], y], [b[0] - 6, y - 4], [b[0] - 6, y + 4]]}, style: {fill: '#ffff00'}},
      {type: 'rect', silent: true, shape: {x: mid - 25, y: y - 7, width: 50, height: 15}, style: {fill: '#ff0000'}},
      {type: 'text', silent: true, style: {text: fpsLabel, x: mid, y: y + 0.5, align: 'center', verticalAlign: 'middle', fill: '#fff', font: '11px "Noto Sans"'}}
    ]
  };
}

var grids = [], xAxes = [], yAxes = [], series = [];
tracks.forEach(function (t, i) {
  grids.push({left: 248, right: 3, top: t.top, height: t.pitch * t.lanes});
  xAxes.push({
    type: 'value', gridIndex: i, min: X_MIN, max: X_MAX, show: i === 0, position: 'top',
    axisLine: {show: false},
    axisTick: {show: false, customValues: xTickValues},
    axisLabel: {
      show: i === 0, inside: true, margin: 5, align: 'left', verticalAlign: 'top', padding: [0, 0, 0, 4],
      color: '#aaaaaa', fontSize: 9.5, fontFamily: 'Noto Sans', customValues: xTickValues,
      formatter: function (v) { return v.toFixed(2) + ' s'; }
    },
    splitLine: {show: i === 0, lineStyle: {color: '#e9e9e9', width: 2}}
  });
  var names = [];
  for (var n = 0; n < t.lanes; n++) names.push(t.name + n);
  yAxes.push({type: 'category', gridIndex: i, inverse: true, show: false, data: names});
  if (t.layers.length) {
    series.push({
      type: 'custom', name: t.name, xAxisIndex: i, yAxisIndex: i, z: 3, animation: false, silent: true,
      clip: false, progressive: 0,
      renderItem: renderBar(t.fill), data: laneData(t.layers)
    });
  }
});
// veils over the two checked rows
series.push({type: 'custom', xAxisIndex: 2, yAxisIndex: 2, z: 4, animation: false, silent: true, clip: false, renderItem: renderVeil, data: [[measureSpan[0], measureSpan[1]]]});
var rsVeilGrid = grids.length;
grids.push({left: 248, right: 3, top: 200, height: 149});
xAxes.push({type: 'value', gridIndex: rsVeilGrid, min: X_MIN, max: X_MAX, show: false});
yAxes.push({type: 'category', gridIndex: rsVeilGrid, inverse: true, show: false, data: ['veil']});
series.push({type: 'custom', xAxisIndex: rsVeilGrid, yAxisIndex: rsVeilGrid, z: 4, animation: false, silent: true, clip: false, renderItem: renderVeil, data: [[measureSpan[0], measureSpan[1]]]});
series.push({type: 'custom', xAxisIndex: 4, yAxisIndex: 4, z: 5, animation: false, silent: true, clip: false, renderItem: renderFps, data: [fpsSpan]});
series.push({type: 'custom', xAxisIndex: 0, yAxisIndex: 0, z: 5, animation: false, silent: true, clip: false, renderItem: renderMeasure, data: [measureSpan]});

// left panel and header furniture
var PANEL = {z: 20};
var chrome = [];
function rect(x, y, w, h, fill, z) { chrome.push({type: 'rect', z: z || PANEL.z, silent: true, shape: {x: x, y: y, width: w, height: h}, style: {fill: fill}}); }
function hline(y, x1, x2, color, width) { chrome.push({type: 'line', z: PANEL.z + 1, silent: true, shape: {x1: x1, y1: y, x2: x2, y2: y}, style: {stroke: color, lineWidth: width || 1}}); }
function vline(x, y1, y2, color, width) { chrome.push({type: 'line', z: PANEL.z + 1, silent: true, shape: {x1: x, y1: y1, x2: x, y2: y2}, style: {stroke: color, lineWidth: width || 1}}); }
function label(text, x, y, size, color, align) { chrome.push({type: 'text', z: PANEL.z + 2, silent: true, style: {text: text, x: x, y: y, align: align || 'left', verticalAlign: 'middle', fill: color, font: size + 'px "Noto Sans"'}}); }
function poly(points, stroke, fill) { chrome.push({type: fill ? 'polygon' : 'polyline', z: PANEL.z + 2, silent: true, shape: {points: points}, style: fill ? {fill: fill} : {stroke: stroke, lineWidth: 1.2, fill: null}}); }
function star(cx, cy, r) {
  var pts = [];
  for (var i = 0; i < 10; i++) {
    var rr = i % 2 ? r * 0.42 : r;
    var a = -Math.PI / 2 + i * Math.PI / 5;
    pts.push([cx + rr * Math.cos(a), cy + rr * Math.sin(a)]);
  }
  poly(pts, null, '#4f8ffb');
}
function checkbox(y, on) {
  chrome.push({type: 'rect', z: PANEL.z + 2, silent: true, shape: {x: 204.5, y: y - 8.5, width: 17, height: 17, r: 3}, style: {fill: '#fff', stroke: on ? '#5a9bf5' : '#5b5b5b', lineWidth: 1}});
  if (on) poly([[208, y], [212, y + 4], [219, y - 4]], '#5a9bf5');
}

rect(0, 0, 248, 666, '#ffffff');
chrome.push({type: 'rect', z: PANEL.z, silent: true, shape: {x: 0, y: 60, width: 16, height: 601}, style: {fill: new echarts.graphic.LinearGradient(0, 0, 1, 0, [{offset: 0, color: '#f3f3f3'}, {offset: 1, color: '#ffffff'}])}});
rect(0, 47, 1608, 13, 'rgba(0,0,0,0.07)');
rect(1608, 0, 3, 666, '#ffffff');
rect(0, 661, 1608, 5, '#bdbdbd');
rect(259, 662, 20, 4, '#8a62c4', PANEL.z + 1);
rect(1302, 662, 14, 4, '#8a62c4', PANEL.z + 1);
hline(0.5, 0, 1608, '#dddddd', 1);
hline(47, 0, 1608, '#d6d6d6', 1);
hline(159.5, 0, 1608, '#dddddd', 1);
hline(179.5, 0, 277, '#dddddd', 1);
hline(199.5, 0, 277, '#dddddd', 1);
hline(349.5, 0, 277, '#dddddd', 1);
vline(247.5, 47, 666, '#cfcfd6', 1);
vline(247.5, 0, 47, '#9d9d9d', 2);
vline(200.5, 662, 666, '#666', 1);
vline(217.5, 662, 666, '#666', 1);

label('14.3 s +', 7, 12.5, 12, '#333');
label('2.21 s', 241, 12.5, 12, '#333', 'right');
poly([[8, 27.5], [12, 31], [16, 27.5]], '#333');
poly([[8, 43], [12, 39.5], [16, 43]], '#333');
chrome.push({type: 'circle', z: PANEL.z + 2, silent: true, shape: {cx: 161.5, cy: 35.5, r: 6}, style: {fill: '#fff', stroke: '#666', lineWidth: 1}});
chrome.push({type: 'circle', z: PANEL.z + 2, silent: true, shape: {cx: 161.5, cy: 35.5, r: 3.8}, style: {fill: '#7a7a7a'}});
label('G1', 171, 34, 12, '#333');
chrome.push({type: 'circle', z: PANEL.z + 2, silent: true, shape: {cx: 197.5, cy: 35.5, r: 6}, style: {fill: '#fff', stroke: '#666', lineWidth: 1}});
label('G2', 207, 34, 12, '#333');
poly([[229, 31], [238, 31], [233.5, 36]], null, '#6a9cf5');

var rowY = [110, 170, 190, 275, 505];
rowNames.forEach(function (name, i) {
  label(name, 10, rowY[i], 14.7, '#555d6b');
  star(189.5, rowY[i], 6.5);
  checkbox(rowY[i] - 1, rowChecked[i]);
});
// next row peeks in under the scroll bar
label('Lost Frames', 10, 667, 14.7, '#4a5568');

var chart = echarts.init(document.getElementById('main'));
chart.setOption({
  animation: false,
  backgroundColor: '#ffffff',
  tooltip: {show: false},
  grid: grids,
  xAxis: xAxes,
  yAxis: yAxes,
  series: series,
  graphic: {elements: chrome}
});
</script>
</body>
</html>
